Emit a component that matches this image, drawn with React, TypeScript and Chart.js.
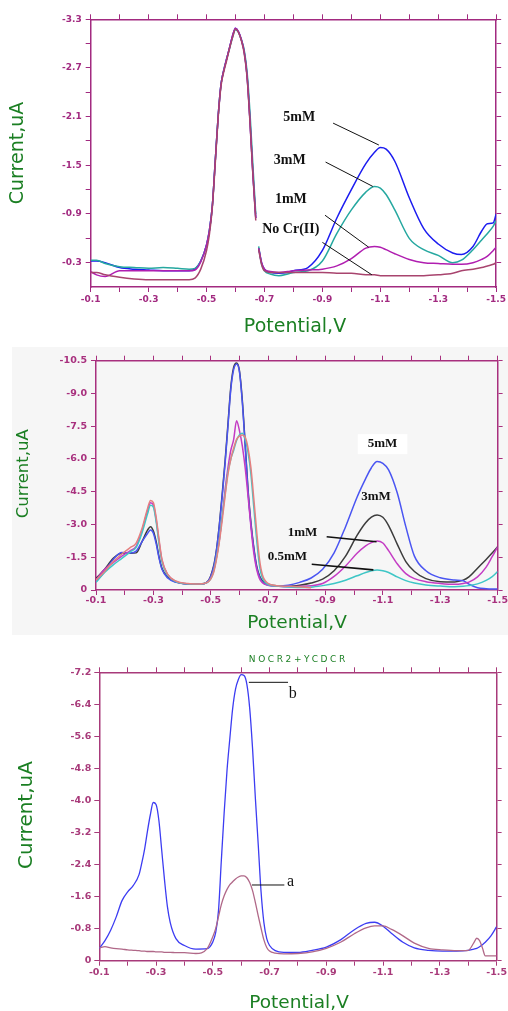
import React, { useEffect, useRef } from 'react';
import { Chart, registerables } from 'chart.js';

Chart.register(...registerables);

// ---------------- Panel 1 data (current in uA vs potential in V) ----------------
const P1_POTENTIAL = [-0.10, -0.12, -0.15, -0.20, -0.25, -0.30, -0.35, -0.40, -0.44, -0.46, -0.48, -0.50, -0.51, -0.52, -0.53, -0.54, -0.55, -0.56, -0.57, -0.58, -0.59, -0.60, -0.61, -0.62, -0.63, -0.64, -0.65, -0.66, -0.67, -0.675, -0.68, -0.69, -0.70, -0.72, -0.75, -0.78, -0.80, -0.85, -0.90, -0.95, -1.00, -1.05, -1.08, -1.10, -1.12, -1.15, -1.20, -1.25, -1.30, -1.35, -1.38, -1.42, -1.45, -1.47, -1.49, -1.50];
const P1_5MM = [-0.32, -0.32, -0.30, -0.24, -0.22, -0.21, -0.20, -0.20, -0.20, -0.22, -0.32, -0.52, -0.70, -1.00, -1.55, -2.10, -2.50, -2.68, -2.82, -2.96, -3.10, -3.19, -3.15, -3.05, -2.90, -2.60, -2.05, -1.40, -0.85, null, -0.48, -0.30, -0.22, -0.18, -0.17, -0.18, -0.20, -0.24, -0.45, -0.85, -1.20, -1.52, -1.66, -1.72, -1.70, -1.55, -1.10, -0.72, -0.53, -0.42, -0.40, -0.50, -0.69, -0.78, -0.79, -0.90];
const P1_3MM = [-0.33, -0.33, -0.29, -0.25, -0.24, -0.23, -0.24, -0.23, -0.22, -0.23, -0.32, -0.52, -0.70, -1.00, -1.55, -2.10, -2.50, -2.68, -2.82, -2.95, -3.08, -3.17, -3.14, -3.05, -2.92, -2.65, -2.15, -1.50, -0.90, null, -0.50, -0.28, -0.20, -0.16, -0.14, -0.16, -0.18, -0.20, -0.32, -0.66, -0.95, -1.17, -1.24, -1.22, -1.14, -0.95, -0.60, -0.46, -0.39, -0.30, -0.33, -0.46, -0.58, -0.66, -0.75, -0.82];
const P1_1MM = [-0.19, -0.15, -0.13, -0.20, -0.20, -0.20, -0.20, -0.20, -0.20, -0.21, -0.31, -0.52, -0.70, -1.00, -1.55, -2.10, -2.50, -2.68, -2.82, -2.96, -3.10, -3.19, -3.15, -3.05, -2.90, -2.60, -2.05, -1.40, -0.85, null, -0.48, -0.30, -0.22, -0.19, -0.18, -0.19, -0.20, -0.21, -0.22, -0.26, -0.35, -0.48, -0.50, -0.49, -0.46, -0.41, -0.34, -0.30, -0.29, -0.28, -0.28, -0.30, -0.34, -0.38, -0.45, -0.49];
const P1_NO_CR = [-0.18, -0.18, -0.15, -0.12, -0.10, -0.09, -0.09, -0.09, -0.09, -0.11, -0.22, -0.45, -0.65, -0.98, -1.52, -2.08, -2.48, -2.66, -2.80, -2.95, -3.08, -3.18, -3.14, -3.04, -2.88, -2.58, -2.02, -1.38, -0.82, null, -0.46, -0.28, -0.20, -0.18, -0.18, -0.18, -0.18, -0.18, -0.18, -0.17, -0.17, -0.15, -0.15, -0.14, -0.14, -0.14, -0.14, -0.14, -0.15, -0.17, -0.20, -0.22, -0.24, -0.26, -0.28, -0.30];

// ---------------- Panel 2 data ----------------
const P2_POTENTIAL = [-0.10, -0.13, -0.16, -0.19, -0.22, -0.24, -0.26, -0.28, -0.29, -0.30, -0.31, -0.32, -0.33, -0.35, -0.38, -0.42, -0.46, -0.49, -0.51, -0.52, -0.53, -0.54, -0.55, -0.56, -0.57, -0.58, -0.59, -0.60, -0.61, -0.62, -0.63, -0.64, -0.65, -0.66, -0.67, -0.68, -0.70, -0.73, -0.77, -0.81, -0.85, -0.89, -0.93, -0.97, -1.01, -1.04, -1.06, -1.08, -1.10, -1.12, -1.15, -1.18, -1.21, -1.25, -1.30, -1.35, -1.38, -1.40, -1.43, -1.46, -1.48, -1.50];
const P2_5MM = [-0.38, -0.85, -1.40, -1.72, -1.70, -1.78, -2.20, -2.60, -2.75, -2.60, -2.10, -1.45, -0.95, -0.55, -0.35, -0.27, -0.26, -0.40, -1.05, -1.80, -2.95, -4.30, -5.80, -7.50, -9.20, -10.10, -10.35, -10.00, -8.60, -6.60, -4.50, -3.00, -1.90, -1.05, -0.60, -0.36, -0.22, -0.19, -0.22, -0.35, -0.55, -0.95, -1.70, -2.90, -4.25, -5.10, -5.60, -5.88, -5.80, -5.50, -4.45, -2.90, -1.55, -0.88, -0.56, -0.46, -0.42, -0.27, -0.10, -0.06, -0.05, -0.05];
const P2_3MM = [-0.53, -0.95, -1.45, -1.68, -1.68, -1.70, -2.20, -2.75, -2.90, -2.70, -2.20, -1.50, -0.99, -0.58, -0.36, -0.27, -0.26, -0.40, -1.10, -1.85, -3.00, -4.40, -5.90, -7.60, -9.30, -10.20, -10.40, -10.05, -8.70, -6.70, -4.60, -3.10, -1.95, -1.10, -0.65, -0.42, -0.24, -0.20, -0.17, -0.22, -0.32, -0.50, -0.88, -1.55, -2.50, -3.08, -3.34, -3.44, -3.33, -2.95, -2.10, -1.30, -0.85, -0.52, -0.38, -0.37, -0.45, -0.60, -1.00, -1.40, -1.68, -1.98];
const P2_1MM = [-0.46, -0.95, -1.25, -1.55, -1.80, -2.00, -2.70, -3.65, -4.00, -3.90, -3.20, -2.20, -1.35, -0.70, -0.38, -0.28, -0.27, -0.38, -0.90, -1.50, -2.30, -3.40, -4.60, -5.60, -6.40, -6.90, -7.75, -7.30, -6.60, -5.60, -4.30, -2.90, -1.70, -0.95, -0.52, -0.33, -0.22, -0.18, -0.15, -0.17, -0.20, -0.30, -0.62, -1.10, -1.68, -2.02, -2.17, -2.24, -2.15, -1.80, -1.20, -0.75, -0.52, -0.38, -0.30, -0.26, -0.30, -0.36, -0.60, -1.05, -1.50, -1.98];
const P2_05MM = [-0.35, -0.80, -1.15, -1.45, -1.75, -1.95, -2.60, -3.50, -3.88, -3.80, -3.10, -2.10, -1.30, -0.68, -0.37, -0.28, -0.27, -0.36, -0.85, -1.50, -2.30, -3.40, -4.40, -5.40, -6.00, -6.40, -6.85, -7.10, -7.18, -6.90, -6.30, -5.30, -3.80, -2.30, -1.10, -0.55, -0.25, -0.18, -0.14, -0.12, -0.13, -0.20, -0.30, -0.45, -0.65, -0.80, -0.88, -0.92, -0.88, -0.80, -0.60, -0.43, -0.32, -0.23, -0.18, -0.15, -0.17, -0.20, -0.28, -0.44, -0.60, -0.84];
const P2_BLANK = [-0.45, -0.85, -1.30, -1.65, -1.95, -2.15, -2.80, -3.75, -4.10, -4.00, -3.30, -2.30, -1.40, -0.72, -0.40, -0.30, -0.28, -0.36, -0.80, -1.40, -2.20, -3.20, -4.30, -5.30, -6.00, -6.50, -6.90, -7.05, -7.10, -7.00, -6.50, -5.60, -4.20, -2.70, -1.40, -0.70, -0.30, -0.20, -0.17, -0.15, -0.10, null, null, null, null, null, null, null, null, null, null, null, null, null, null, null, null, null, null, null, null, null];

// ---------------- Panel 3 data ----------------
const P3_POTENTIAL = [-0.10, -0.12, -0.14, -0.16, -0.18, -0.20, -0.22, -0.24, -0.25, -0.26, -0.27, -0.28, -0.29, -0.30, -0.31, -0.32, -0.33, -0.34, -0.35, -0.37, -0.40, -0.44, -0.48, -0.50, -0.51, -0.52, -0.53, -0.54, -0.55, -0.56, -0.57, -0.58, -0.59, -0.60, -0.61, -0.62, -0.63, -0.64, -0.65, -0.66, -0.67, -0.68, -0.69, -0.70, -0.72, -0.75, -0.80, -0.85, -0.90, -0.95, -1.00, -1.04, -1.07, -1.10, -1.13, -1.17, -1.21, -1.26, -1.31, -1.36, -1.40, -1.42, -1.43, -1.44, -1.45, -1.46, -1.48, -1.50];
const P3_B = [-0.31, -0.50, -0.76, -1.10, -1.50, -1.72, -1.88, -2.15, -2.45, -2.80, -3.25, -3.65, -3.95, -3.90, -3.50, -2.75, -2.00, -1.35, -0.95, -0.55, -0.38, -0.29, -0.30, -0.47, -0.70, -1.25, -2.50, -3.70, -4.75, -5.55, -6.30, -6.78, -7.02, -7.14, -7.12, -6.90, -6.30, -5.30, -4.05, -2.90, -1.72, -0.95, -0.55, -0.38, -0.25, -0.21, -0.21, -0.26, -0.34, -0.52, -0.78, -0.93, -0.96, -0.86, -0.68, -0.46, -0.32, -0.26, -0.24, -0.24, -0.26, -0.29, -0.31, -0.35, -0.40, -0.46, -0.62, -0.85];
const P3_A = [-0.32, -0.35, -0.32, -0.30, -0.29, -0.27, -0.26, -0.25, -0.24, -0.24, -0.23, -0.23, -0.23, -0.22, -0.22, -0.22, -0.21, -0.21, -0.21, -0.20, -0.20, -0.18, -0.30, -0.60, -0.80, -1.10, -1.40, -1.62, -1.78, -1.90, -1.97, -2.04, -2.09, -2.12, -2.12, -2.07, -1.95, -1.75, -1.45, -1.12, -0.81, -0.52, -0.33, -0.24, -0.19, -0.17, -0.18, -0.22, -0.31, -0.46, -0.68, -0.82, -0.87, -0.87, -0.78, -0.62, -0.44, -0.31, -0.27, -0.25, -0.26, -0.45, -0.56, -0.50, -0.32, -0.12, -0.12, -0.12];

// ---------------- Axis ticks ----------------
const X_TICKS = [-0.1, -0.2, -0.3, -0.4, -0.5, -0.6, -0.7, -0.8, -0.9, -1.0, -1.1, -1.2, -1.3, -1.4, -1.5];
const P1_Y_TICKS = [-0.3, -0.6, -0.9, -1.2, -1.5, -1.8, -2.1, -2.4, -2.7, -3.0, -3.3];
const P2_Y_TICKS = [0, -1.5, -3.0, -4.5, -6.0, -7.5, -9.0, -10.5];
const P3_Y_TICKS = [0, -0.8, -1.6, -2.4, -3.2, -4.0, -4.8, -5.6, -6.4, -7.2];

const W = 508;
const GREEN = '#1b7f23';

const fmt = (v: number) => (Math.abs(v) < 1e-9 ? '0' : v.toFixed(1));
const pts = (xs: number[], ys: (number | null)[]) => xs.map((x, i) => ({ x, y: ys[i] }));

const PANELS = [
  {
    key: 'p1',
    top: 0,
    height: 340,
    plot: { left: 90.7, right: 498, top: 19.3, bottom: 287 },
    yMin: -3.3,
    yTicks: P1_Y_TICKS,
    yLabelEvery: 2,
    axisColor: '#a22a80',
    tickSize: 9,
    yPad: 4,
    xPad: 2,
    lineWidth: 1.5,
    series: [
      { label: 'No Cr(II)', xs: P1_POTENTIAL, ys: P1_NO_CR, color: '#a8446e' },
      { label: '1mM', xs: P1_POTENTIAL, ys: P1_1MM, color: '#b01eb0' },
      { label: '3mM', xs: P1_POTENTIAL, ys: P1_3MM, color: '#26a8a0' },
      { label: '5mM', xs: P1_POTENTIAL, ys: P1_5MM, color: '#1c1cf0' },
    ],
    notes: [
      { text: '5mM', x: -0.82, y: -2.09, font: 'bold 14px "Liberation Serif"' },
      { text: '3mM', x: -0.787, y: -1.56, font: 'bold 14px "Liberation Serif"' },
      { text: '1mM', x: -0.791, y: -1.08, font: 'bold 14px "Liberation Serif"' },
      { text: 'No Cr(II)', x: -0.791, y: -0.71, font: 'bold 14px "Liberation Serif"' },
    ],
    leaders: [
      { x1: -0.937, y1: -2.02, x2: -1.095, y2: -1.75, width: 1 },
      { x1: -0.911, y1: -1.54, x2: -1.074, y2: -1.24, width: 1 },
      { x1: -0.909, y1: -0.885, x2: -1.06, y2: -0.49, width: 1 },
      { x1: -0.9, y1: -0.55, x2: -1.071, y2: -0.15, width: 1 },
    ],
    titles: [
      { text: 'Potential,V', x: 295, y: 327, size: 19, rotate: false },
      { text: 'Current,uA', x: 18.3, y: 153, size: 19, rotate: true },
    ],
  },
  {
    key: 'p2',
    top: 340,
    height: 300,
    plot: { left: 96, right: 497.7, top: 20.7, bottom: 250 },
    yMin: -10.5,
    yTicks: P2_Y_TICKS,
    yLabelEvery: 1,
    axisColor: '#a8307e',
    tickSize: 9.5,
    yPad: 4,
    xPad: 0,
    lineWidth: 1.5,
    series: [
      { label: 'blank', xs: P2_POTENTIAL, ys: P2_BLANK, color: '#e48080' },
      { label: '0.5mM', xs: P2_POTENTIAL, ys: P2_05MM, color: '#3ec6c6' },
      { label: '1mM', xs: P2_POTENTIAL, ys: P2_1MM, color: '#c43cc4' },
      { label: '5mM', xs: P2_POTENTIAL, ys: P2_5MM, color: '#4a55f2' },
      { label: '3mM', xs: P2_POTENTIAL, ys: P2_3MM, color: '#3c3c3c' },
    ],
    notes: [
      { text: '5mM', x: -1.099, y: -6.68, font: 'bold 13px "Liberation Serif"', bg: true },
      { text: '3mM', x: -1.076, y: -4.27, font: 'bold 13px "Liberation Serif"' },
      { text: '1mM', x: -0.82, y: -2.64, font: 'bold 13px "Liberation Serif"' },
      { text: '0.5mM', x: -0.767, y: -1.52, font: 'bold 13px "Liberation Serif"' },
    ],
    leaders: [
      { x1: -0.904, y1: -2.44, x2: -1.078, y2: -2.21, width: 1.6 },
      { x1: -0.852, y1: -1.18, x2: -1.067, y2: -0.92, width: 1.6 },
    ],
    titles: [
      { text: 'Potential,V', x: 297, y: 283, size: 18.5, rotate: false },
      { text: 'Current,uA', x: 23.3, y: 133.7, size: 16.5, rotate: true },
    ],
  },
  {
    key: 'p3',
    top: 640,
    height: 371,
    plot: { left: 99.3, right: 497.7, top: 32.3, bottom: 320.7 },
    yMin: -7.2,
    yTicks: P3_Y_TICKS,
    yLabelEvery: 1,
    axisColor: '#a83a7a',
    tickSize: 9.5,
    yPad: 3,
    xPad: 1,
    lineWidth: 1.3,
    series: [
      { label: 'a', xs: P3_POTENTIAL, ys: P3_A, color: '#b06888' },
      { label: 'b', xs: P3_POTENTIAL, ys: P3_B, color: '#3c3cf2' },
    ],
    notes: [
      { text: 'b', x: -0.782, y: -6.66, font: '16px "Liberation Serif"' },
      { text: 'a', x: -0.774, y: -1.96, font: '16px "Liberation Serif"' },
    ],
    leaders: [
      { x1: -0.627, y1: -6.95, x2: -0.765, y2: -6.95, width: 1 },
      { x1: -0.638, y1: -1.89, x2: -0.752, y2: -1.89, width: 1 },
    ],
    titles: [
      { text: 'Potential,V', x: 299, y: 363, size: 18.5, rotate: false },
      { text: 'Current,uA', x: 27, y: 175, size: 20, rotate: true },
      { text: 'NOCR2+YCDCR', x: 298.3, y: 19.3, size: 9, rotate: false, spacing: '2.6px' },
    ],
  },
];

function makePlugin(spec: any) {
  return {
    id: 'panelText_' + spec.key,
    afterDatasetsDraw(chart: any) {
      const ctx = chart.ctx as CanvasRenderingContext2D;
      const xs = chart.scales.x;
      const ys = chart.scales.y;
      ctx.save();
      ctx.strokeStyle = '#111';
      for (const l of spec.leaders) {
        ctx.beginPath();
        ctx.lineWidth = l.width;
        ctx.moveTo(xs.getPixelForValue(l.x1), ys.getPixelForValue(l.y1));
        ctx.lineTo(xs.getPixelForValue(l.x2), ys.getPixelForValue(l.y2));
        ctx.stroke();
      }
      ctx.textAlign = 'center';
      ctx.textBaseline = 'middle';
      for (const n of spec.notes) {
        const px = xs.getPixelForValue(n.x);
        const py = ys.getPixelForValue(n.y);
        ctx.font = n.font;
        if (n.bg) {
          const w = ctx.measureText(n.text).width;
          ctx.fillStyle = '#ffffff';
          ctx.fillRect(px - w / 2 - 10, py - 10, w + 20, 20);
        }
        ctx.fillStyle = '#111';
        ctx.fillText(n.text, px, py);
      }
      for (const t of spec.titles) {
        ctx.save();
        ctx.font = `${t.size}px "DejaVu Sans"`;
        (ctx as any).letterSpacing = t.spacing || '0px';
        ctx.fillStyle = GREEN;
        ctx.translate(t.x, t.y);
        if (t.rotate) ctx.rotate(-Math.PI / 2);
        ctx.fillText(t.text, 0, 0);
        ctx.restore();
      }
      ctx.restore();
    },
  };
}

function makeConfig(spec: any): any {
  const c = spec.axisColor;
  const tickFont = { family: 'DejaVu Sans', size: spec.tickSize, weight: 'bold' };
  const grid = { drawOnChartArea: false, drawTicks: true, tickLength: 5, color: c, tickWidth: 1 };
  const border = { display: true, color: c, width: 1.5 };
  const xCommon = {
    type: 'linear',
    min: -1.5,
    max: -0.1,
    reverse: true,
    afterBuildTicks: (s: any) => {
      s.ticks = X_TICKS.map((v) => ({ value: v }));
    },
    grid,
    border,
  };
  const yCommon = {
    type: 'linear',
    min: spec.yMin,
    max: 0,
    reverse: true,
    afterBuildTicks: (s: any) => {
      s.ticks = spec.yTicks.map((v: number) => ({ value: v }));
    },
    grid,
    border,
  };
  return {
    type: 'line',
    data: {
      datasets: spec.series.map((s: any) => ({
        label: s.label,
        data: pts(s.xs, s.ys),
        borderColor: s.color,
        backgroundColor: s.color,
        borderWidth: spec.lineWidth,
        pointRadius: 0,
        fill: false,
        spanGaps: false,
        cubicInterpolationMode: 'monotone',
        xAxisID: 'x',
        yAxisID: 'y',
      })),
    },
    options: {
      responsive: false,
      animation: false,
      devicePixelRatio: 1,
      events: [],
      layout: { padding: 0 },
      plugins: { legend: { display: false }, tooltip: { enabled: false }, title: { display: false } },
      scales: {
        x: {
          ...xCommon,
          position: 'bottom',
          afterFit: (s: any) => {
            s.height = spec.height - spec.plot.bottom;
          },
          ticks: {
            autoSkip: false,
            maxRotation: 0,
            minRotation: 0,
            padding: spec.xPad,
            color: c,
            font: tickFont,
            callback: (v: number, i: number) => (i % 2 === 0 ? fmt(v) : ''),
          },
        },
        x2: {
          ...xCommon,
          position: 'top',
          afterFit: (s: any) => {
            s.height = spec.plot.top;
          },
          ticks: { display: false, autoSkip: false },
        },
        y: {
          ...yCommon,
          position: 'left',
          afterFit: (s: any) => {
            s.width = spec.plot.left;
          },
          ticks: {
            autoSkip: false,
            padding: spec.yPad,
            color: c,
            font: tickFont,
            callback: (v: number, i: number) => (i % spec.yLabelEvery === 0 ? fmt(v) : ''),
          },
        },
        y2: {
          ...yCommon,
          position: 'right',
          afterFit: (s: any) => {
            s.width = W - spec.plot.right;
          },
          ticks: { display: false, autoSkip: false },
        },
      },
    },
    plugins: [makePlugin(spec)],
  };
}

function Panel({ spec }: { spec: any }) {
  const ref = useRef<HTMLCanvasElement | null>(null);
  useEffect(() => {
    if (!ref.current) return;
    const chart = new Chart(ref.current, makeConfig(spec));
    return () => chart.destroy();
  }, [spec]);
  return (
    <canvas
      ref={ref}
      width={W}
      height={spec.height}
      style={{ position: 'absolute', left: 0, top: spec.top, width: W, height: spec.height, display: 'block' }}
    />
  );
}

export default function App() {
  return (
    <div style={{ position: 'absolute', left: 0, top: 0, width: W, height: 1011, background: '#ffffff', overflow: 'hidden' }}>
      <div style={{ position: 'absolute', left: 12, top: 347, width: 496, height: 288, background: '#f6f6f6' }} />
      {PANELS.map((p) => (
        <Panel key={p.key} spec={p} />
      ))}
    </div>
  );
}
